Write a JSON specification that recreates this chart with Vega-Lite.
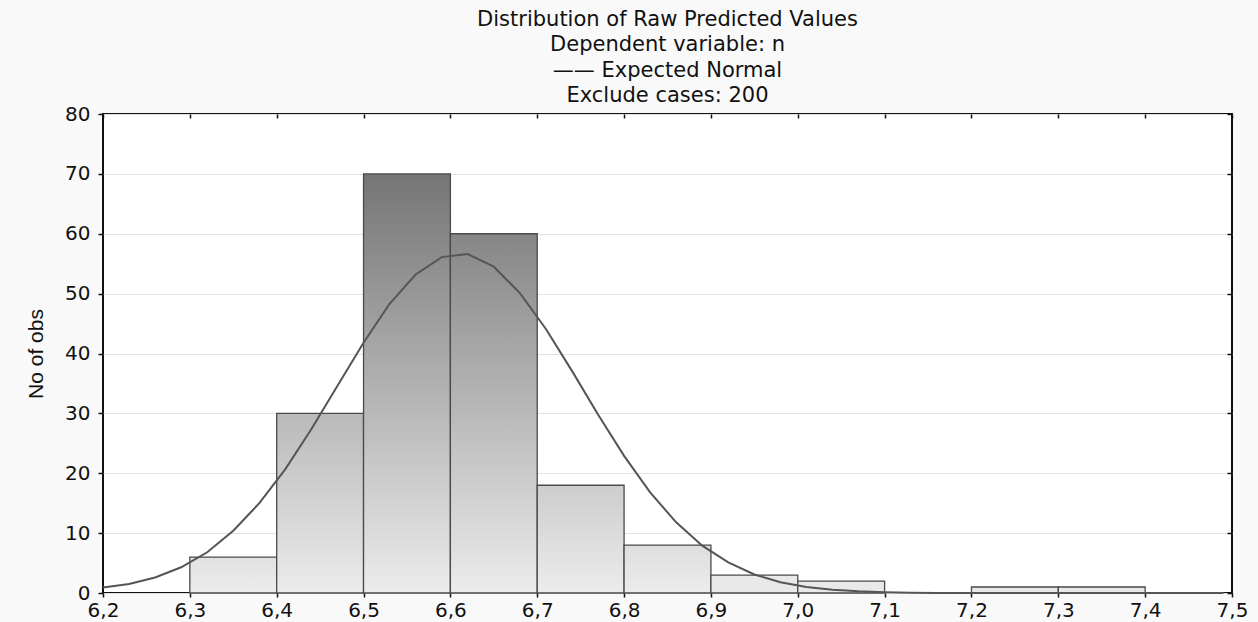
{
  "$schema": "https://vega.github.io/schema/vega-lite/v6.json",
  "width": 1129,
  "height": 479,
  "autosize": {"type": "none"},
  "padding": {"left": 103, "top": 114, "right": 26, "bottom": 29},
  "background": "#f9f9f9",
  "title": {
    "text": ["Distribution of Raw Predicted Values", "Dependent variable: n", "—— Expected Normal", "Exclude cases: 200"],
    "font": "DejaVu Sans",
    "fontSize": 21,
    "fontWeight": "normal",
    "lineHeight": 25.5,
    "color": "#111111",
    "anchor": "middle",
    "offset": -2
  },
  "config": {
    "view": {"stroke": "#111111", "strokeWidth": 2, "fill": "white"},
    "axis": {
      "domain": false,
      "tickColor": "#111111",
      "tickWidth": 1.5,
      "labelFont": "DejaVu Sans",
      "labelFontSize": 20,
      "labelColor": "#111111",
      "grid": false
    }
  },
  "datasets": {
    "bars": [
      {"lo": 6.3, "hi": 6.4, "n": 6},
      {"lo": 6.4, "hi": 6.5, "n": 30},
      {"lo": 6.5, "hi": 6.6, "n": 70},
      {"lo": 6.6, "hi": 6.7, "n": 60},
      {"lo": 6.7, "hi": 6.8, "n": 18},
      {"lo": 6.8, "hi": 6.9, "n": 8},
      {"lo": 6.9, "hi": 7.0, "n": 3},
      {"lo": 7.0, "hi": 7.1, "n": 2},
      {"lo": 7.2, "hi": 7.3, "n": 1},
      {"lo": 7.3, "hi": 7.4, "n": 1}
    ],
    "curve": [
      {"x": 6.20, "y": 0.9},
      {"x": 6.23, "y": 1.5},
      {"x": 6.26, "y": 2.6},
      {"x": 6.29, "y": 4.3},
      {"x": 6.32, "y": 6.8},
      {"x": 6.35, "y": 10.4},
      {"x": 6.38, "y": 15.0},
      {"x": 6.41, "y": 20.7},
      {"x": 6.44, "y": 27.4},
      {"x": 6.47, "y": 34.6},
      {"x": 6.50, "y": 41.8},
      {"x": 6.53, "y": 48.3},
      {"x": 6.56, "y": 53.2},
      {"x": 6.59, "y": 56.1},
      {"x": 6.62, "y": 56.6},
      {"x": 6.65, "y": 54.5},
      {"x": 6.68, "y": 50.1},
      {"x": 6.71, "y": 44.1},
      {"x": 6.74, "y": 37.1},
      {"x": 6.77, "y": 29.8},
      {"x": 6.80, "y": 22.9},
      {"x": 6.83, "y": 16.8},
      {"x": 6.86, "y": 11.8},
      {"x": 6.89, "y": 7.9},
      {"x": 6.92, "y": 5.1},
      {"x": 6.95, "y": 3.1},
      {"x": 6.98, "y": 1.8},
      {"x": 7.01, "y": 1.0},
      {"x": 7.04, "y": 0.54},
      {"x": 7.07, "y": 0.28},
      {"x": 7.10, "y": 0.13},
      {"x": 7.13, "y": 0.06},
      {"x": 7.16, "y": 0.02},
      {"x": 7.20, "y": 0.0},
      {"x": 7.30, "y": 0.0},
      {"x": 7.40, "y": 0.0},
      {"x": 7.49, "y": 0.0}
    ]
  },
  "layer": [
    {
      "data": {"name": "bars"},
      "mark": {"type": "bar", "orient": "vertical", "stroke": "#4a4a4a", "strokeWidth": 1.3},
      "encoding": {
        "x": {
          "field": "lo",
          "type": "quantitative",
          "scale": {"domain": [6.2, 7.5], "nice": false, "zero": false, "padding": 0},
          "axis": {
            "orient": "bottom",
            "title": null,
            "values": [6.2, 6.3, 6.4, 6.5, 6.6, 6.7, 6.8, 6.9, 7.0, 7.1, 7.2, 7.3, 7.4, 7.5],
            "format": ".1f",
            "labelExpr": "replace(datum.label, '.', ',')",
            "tickSize": 4,
            "labelPadding": 3,
            "labelFlush": false
          }
        },
        "x2": {"field": "hi"},
        "y": {
          "field": "n",
          "type": "quantitative",
          "scale": {"domain": [0, 80], "nice": false},
          "axis": {
            "orient": "left",
            "title": "No of obs",
            "titleFont": "Liberation Sans Narrow, Liberation Sans",
            "titleFontSize": 21,
            "titleFontWeight": "normal",
            "titleColor": "#111111",
            "titlePadding": 18,
            "values": [0, 10, 20, 30, 40, 50, 60, 70, 80],
            "grid": true,
            "gridColor": "#e2e2e2",
            "gridWidth": 1.2,
            "tickSize": 5,
            "labelPadding": 8
          }
        },
        "y2": {"datum": 0},
        "fill": {
          "condition": [
            {"test": "datum.n == 70", "value": {"gradient": "linear", "x1": 0, "y1": 1, "x2": 0, "y2": 0, "stops": [{"offset": 0, "color": "#ececec"}, {"offset": 1, "color": "#757575"}]}},
            {"test": "datum.n == 60", "value": {"gradient": "linear", "x1": 0, "y1": 1, "x2": 0, "y2": 0, "stops": [{"offset": 0, "color": "#ececec"}, {"offset": 1, "color": "#868686"}]}},
            {"test": "datum.n == 30", "value": {"gradient": "linear", "x1": 0, "y1": 1, "x2": 0, "y2": 0, "stops": [{"offset": 0, "color": "#ececec"}, {"offset": 1, "color": "#b9b9b9"}]}},
            {"test": "datum.n == 18", "value": {"gradient": "linear", "x1": 0, "y1": 1, "x2": 0, "y2": 0, "stops": [{"offset": 0, "color": "#ececec"}, {"offset": 1, "color": "#cdcdcd"}]}},
            {"test": "datum.n == 8", "value": {"gradient": "linear", "x1": 0, "y1": 1, "x2": 0, "y2": 0, "stops": [{"offset": 0, "color": "#ececec"}, {"offset": 1, "color": "#dedede"}]}},
            {"test": "datum.n == 6", "value": {"gradient": "linear", "x1": 0, "y1": 1, "x2": 0, "y2": 0, "stops": [{"offset": 0, "color": "#ececec"}, {"offset": 1, "color": "#e2e2e2"}]}}
          ],
          "value": "#e9e9e9"
        }
      }
    },
    {
      "data": {"name": "curve"},
      "mark": {"type": "line", "color": "#555555", "strokeWidth": 2},
      "encoding": {
        "x": {
          "field": "x",
          "type": "quantitative",
          "axis": {
            "orient": "top",
            "title": null,
            "labels": false,
            "values": [6.2, 6.3, 6.4, 6.5, 6.6, 6.7, 6.8, 6.9, 7.0, 7.1, 7.2, 7.3, 7.4, 7.5],
            "tickSize": -4
          }
        },
        "y": {
          "field": "y",
          "type": "quantitative",
          "axis": {
            "orient": "right",
            "title": null,
            "labels": false,
            "values": [0, 10, 20, 30, 40, 50, 60, 70, 80],
            "tickSize": -5
          }
        }
      }
    }
  ],
  "resolve": {"axis": {"x": "independent", "y": "independent"}}
}
